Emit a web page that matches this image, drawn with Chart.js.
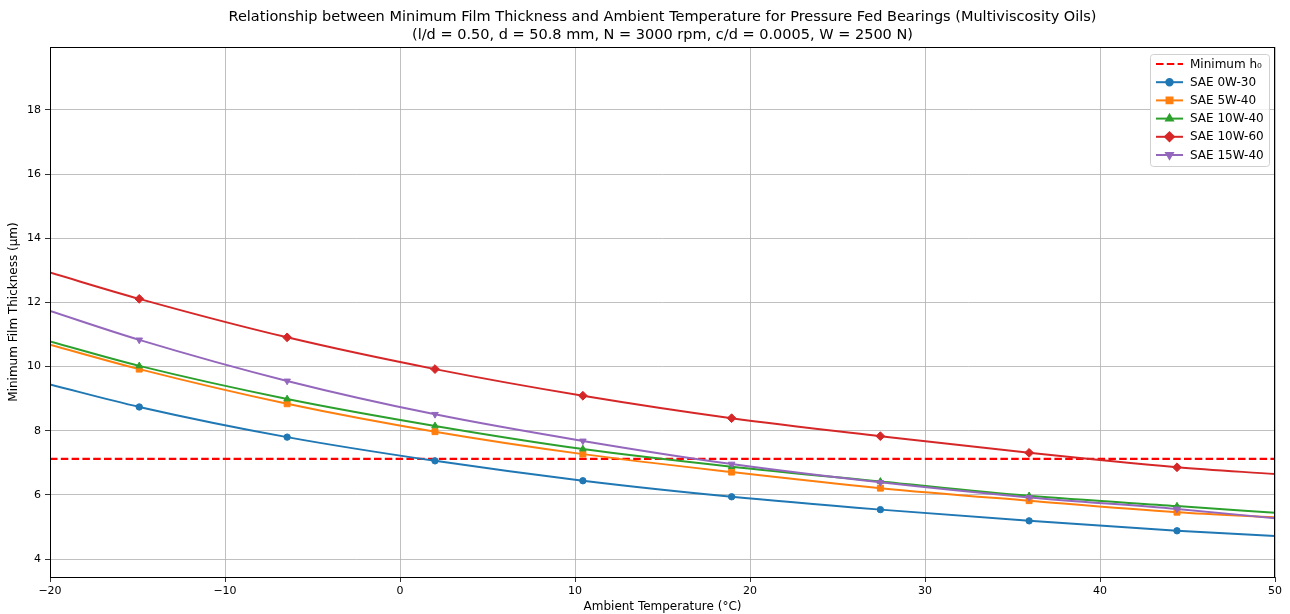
<!DOCTYPE html>
<html>
<head>
<meta charset="utf-8">
<script src="https://cdn.jsdelivr.net/npm/chart.js@4.4.0/dist/chart.umd.min.js"></script>
<style>
  body { margin: 0; background: #fff; }
  #wrap { width: 1290px; height: 614px; }
</style>
</head>
<body>
<div id="wrap"><canvas id="filmChart" width="1290" height="614"></canvas></div>
<script>
// values (marker positions plus both ends)
const temps = [-20, -14.9, -6.45, 2.0, 10.45, 18.95, 27.45, 35.95, 44.4, 50];
const sae0w30 = [9.44, 8.74, 7.80, 7.06, 6.44, 5.94, 5.54, 5.19, 4.88, 4.72];
const sae5w40 = [10.68, 9.92, 8.84, 7.97, 7.27, 6.71, 6.21, 5.82, 5.46, 5.30];
const sae10w40 = [10.78, 10.02, 8.99, 8.15, 7.43, 6.88, 6.42, 5.97, 5.65, 5.44];
const sae10w60 = [12.93, 12.11, 10.91, 9.92, 9.09, 8.39, 7.83, 7.31, 6.86, 6.65];
const sae15w40 = [11.73, 10.83, 9.55, 8.51, 7.68, 6.96, 6.39, 5.92, 5.56, 5.27];
const minH0 = 7.12;

const xTicks = [-20, -10, 0, 10, 20, 30, 40, 50];
const yTicks = [4, 6, 8, 10, 12, 14, 16, 18];

const FONT = '"DejaVu Sans", sans-serif';

function pts(ys) {
    return temps.map((t, i) => ({ x: t, y: ys[i] }));
}
// no marker on the two end points
const radii = r => temps.map((t, i) => (i === 0 || i === temps.length - 1) ? 0 : r);

function oil(label, ys, color, style, r, rot, order) {
    return {
        label: label,
        data: pts(ys),
        borderColor: color,
        backgroundColor: color,
        borderWidth: 2,
        pointStyle: style,
        pointRadius: radii(r),
        pointRotation: rot,
        pointBorderWidth: 1,
        cubicInterpolationMode: 'monotone',
        order: order
    };
}

const datasets = [
    {
        label: 'Minimum h\u2080',
        data: [{ x: -20, y: minH0 }, { x: 50, y: minH0 }],
        borderColor: '#ff0000',
        backgroundColor: '#ff0000',
        borderWidth: 2.2,
        borderDash: [7.5, 3.3],
        pointRadius: 0,
        order: 6
    },
    oil('SAE 0W-30', sae0w30, '#1f77b4', 'circle', 3.2, 0, 5),
    oil('SAE 5W-40', sae5w40, '#ff7f0e', 'rect', 4.2, 0, 4),
    oil('SAE 10W-40', sae10w40, '#2ca02c', 'triangle', 3.8, 0, 3),
    oil('SAE 10W-60', sae10w60, '#d62728', 'rectRot', 4.4, 0, 2),
    oil('SAE 15W-40', sae15w40, '#9467bd', 'triangle', 3.8, 180, 1)
];

// titles, frame and matplotlib-style legend
const decor = {
    id: 'decor',
    afterDraw(chart) {
        const ctx = chart.ctx;
        const a = chart.chartArea;
        const cx = (a.left + a.right) / 2;
        ctx.save();

        ctx.strokeStyle = '#000';
        ctx.lineWidth = 1;
        ctx.strokeRect(a.left + 0.5, a.top + 0.5, a.right - a.left - 1, a.bottom - a.top);

        ctx.fillStyle = '#000';
        ctx.textAlign = 'center';
        ctx.textBaseline = 'middle';
        ctx.font = '14.5px ' + FONT;
        ctx.fillText('Relationship between Minimum Film Thickness and Ambient Temperature for Pressure Fed Bearings (Multiviscosity Oils)', cx, 17);
        ctx.fillText('(l/d = 0.50, d = 50.8 mm, N = 3000 rpm, c/d = 0.0005, W = 2500 N)', cx, 35);

        ctx.font = '12px ' + FONT;
        ctx.fillText('Ambient Temperature (\u00b0C)', cx, 607);
        ctx.translate(14, (a.top + a.bottom) / 2);
        ctx.rotate(-Math.PI / 2);
        ctx.fillText('Minimum Film Thickness (\u03bcm)', 0, 0);
        ctx.restore();

        // legend box
        ctx.save();
        const bx = 1150, by = 54, bw = 119, bh = 112;
        ctx.beginPath();
        ctx.roundRect(bx + 0.5, by + 0.5, bw, bh, 3);
        ctx.fillStyle = 'rgba(255,255,255,0.8)';
        ctx.fill();
        ctx.strokeStyle = '#d0d0d0';
        ctx.lineWidth = 1;
        ctx.stroke();

        ctx.font = '12px ' + FONT;
        ctx.textAlign = 'left';
        ctx.textBaseline = 'middle';
        chart.data.datasets.forEach((ds, i) => {
            const y = 64 + i * 18.2;
            ctx.strokeStyle = ds.borderColor;
            ctx.fillStyle = ds.borderColor;
            ctx.lineWidth = ds.borderWidth;
            ctx.setLineDash(ds.borderDash || []);
            ctx.beginPath();
            ctx.moveTo(1156, y);
            ctx.lineTo(1183, y);
            ctx.stroke();
            ctx.setLineDash([]);
            if (ds.pointStyle) {
                Chart.helpers.drawPoint(ctx, {
                    pointStyle: ds.pointStyle,
                    radius: Math.max(...ds.pointRadius),
                    rotation: ds.pointRotation || 0,
                    borderWidth: 1
                }, 1169.5, y);
            }
            ctx.fillStyle = '#000';
            ctx.fillText(ds.label, 1190, y + 0.5);
        });
        ctx.restore();
    }
};

new Chart(document.getElementById('filmChart'), {
    type: 'line',
    data: { datasets: datasets },
    plugins: [decor],
    options: {
        responsive: false,
        animation: false,
        layout: { padding: { top: 47, right: 15, left: 0, bottom: 0 } },
        plugins: {
            legend: { display: false },
            title: { display: false },
            tooltip: { enabled: false }
        },
        scales: {
            x: {
                type: 'linear',
                min: -20,
                max: 50,
                afterFit: s => { s.height = 37; },
                afterBuildTicks: s => { s.ticks = xTicks.map(v => ({ value: v })); },
                grid: { color: '#b0b0b0', lineWidth: 0.8, tickColor: '#000', tickLength: 5 },
                border: { display: false },
                ticks: {
                    color: '#000',
                    padding: 3,
                    maxRotation: 0,
                    font: { family: FONT, size: 11 },
                    callback: v => String(v).replace('-', '\u2212')
                }
            },
            y: {
                type: 'linear',
                min: 3.44,
                max: 19.96,
                afterFit: s => { s.width = 50; },
                afterBuildTicks: s => { s.ticks = yTicks.map(v => ({ value: v })); },
                grid: { color: '#b0b0b0', lineWidth: 0.8, tickColor: '#000', tickLength: 5 },
                border: { display: false },
                ticks: {
                    color: '#000',
                    padding: 4,
                    font: { family: FONT, size: 11 }
                }
            }
        }
    }
});
</script>
</body>
</html>
